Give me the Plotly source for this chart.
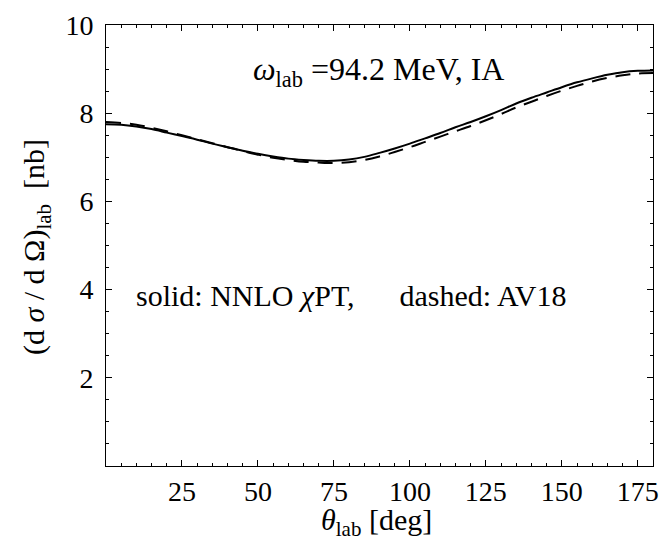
import plotly.graph_objects as go

theta = [0, 5, 10, 15, 20, 25, 30, 35, 40, 45, 50, 55, 60, 65, 70, 75, 80, 85, 90,
         95, 100, 105, 110, 115, 120, 125, 130, 135, 140, 145, 150, 155, 160, 165,
         170, 175, 180]
nnlo = [7.75, 7.74, 7.70, 7.64, 7.56, 7.48, 7.40, 7.31, 7.23, 7.15, 7.08, 7.02, 6.97,
        6.94, 6.92, 6.92, 6.95, 7.01, 7.10, 7.20, 7.31, 7.43, 7.55, 7.68, 7.80, 7.93,
        8.07, 8.22, 8.35, 8.47, 8.59, 8.70, 8.79, 8.87, 8.93, 8.96, 8.97]
av18 = [7.80, 7.78, 7.74, 7.67, 7.59, 7.50, 7.41, 7.32, 7.23, 7.14, 7.06, 6.99, 6.94,
        6.90, 6.88, 6.87, 6.89, 6.94, 7.02, 7.12, 7.23, 7.35, 7.47, 7.59, 7.71, 7.84,
        7.98, 8.13, 8.26, 8.39, 8.51, 8.62, 8.72, 8.80, 8.86, 8.90, 8.91]
x_ticks = [25, 50, 75, 100, 125, 150, 175]
y_ticks = [2, 4, 6, 8, 10]

FONT = "Liberation Serif, Times New Roman, serif"

fig = go.Figure()
fig.add_trace(go.Scatter(x=theta, y=av18, mode="lines",
                         line=dict(color="black", width=2, dash="15px,9px", shape="spline"),
                         showlegend=False))
fig.add_trace(go.Scatter(x=theta, y=nnlo, mode="lines",
                         line=dict(color="black", width=2, shape="spline"), showlegend=False))

axis_common = dict(showline=True, linecolor="black", linewidth=1, mirror="allticks",
                   ticks="inside", ticklen=6, tickwidth=1, tickcolor="black",
                   showgrid=False, zeroline=False,
                   tickfont=dict(family=FONT, size=28, color="black"))

fig.update_xaxes(range=[0, 180], tickvals=x_ticks,
                 minor=dict(dtick=5, ticks="inside", ticklen=3, tickcolor="black", showgrid=False),
                 **axis_common)
fig.update_yaxes(range=[0, 10], tickvals=y_ticks, ticklabelstandoff=6,
                 minor=dict(dtick=0.5, ticks="inside", ticklen=3, tickcolor="black", showgrid=False),
                 **axis_common)

TF = dict(family=FONT, size=30, color="black")
fig.add_annotation(xref="paper", yref="paper", x=0.495, y=-0.127, yanchor="middle", showarrow=False,
                   text="<i>θ</i><sub>lab</sub> [deg]", font=TF)
fig.add_annotation(xref="paper", yref="paper", x=-0.166, y=0.497, textangle=-90, showarrow=False,
                   text="(d <i>σ</i> / d Ω)<sub>lab</sub>  [nb]", font=TF)
fig.add_annotation(xref="paper", yref="paper", x=0.499, y=0.946, showarrow=False,
                   text="<i>ω</i><sub>lab</sub> =94.2 MeV, IA", font=dict(family=FONT, size=32, color="black"))
fig.add_annotation(xref="paper", yref="paper", x=0.448, y=0.386, showarrow=False,
                   text="solid: NNLO <i>χ</i>PT,\u00a0\u00a0\u00a0\u00a0\u00a0\u00a0dashed: AV18",
                   font=TF)

fig.update_layout(width=669, height=540, margin=dict(l=106, r=10, t=25, b=74),
                  plot_bgcolor="white", paper_bgcolor="white")
fig.write_html("out.html")
